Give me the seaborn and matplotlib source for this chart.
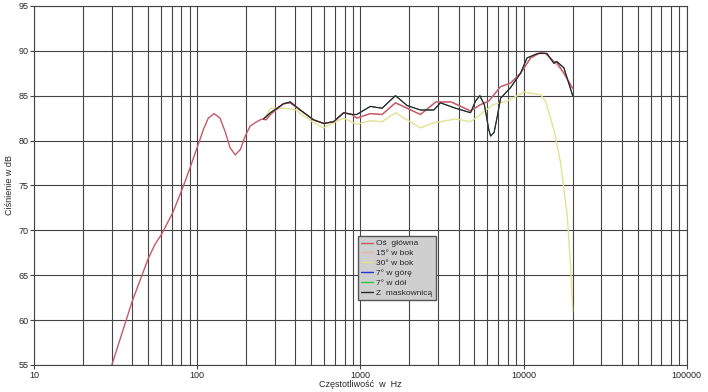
import matplotlib
matplotlib.use("Agg")
import matplotlib.pyplot as plt
import seaborn as sns
import pandas as pd
from matplotlib.ticker import LogLocator, FixedLocator, NullFormatter

sns.set_theme(style="white")
plt.rcParams['font.family'] = ['Liberation Sans', 'DejaVu Sans']

# ---- data ----
main_f = [30, 40, 50, 55, 60.7, 71, 81, 90.6, 99, 109, 117, 127, 138, 149, 159, 171, 184,
          197, 211, 227, 249, 265, 281, 338, 372, 428, 517, 596, 686, 791, 889, 950, 1151,
          1359, 1641, 1933, 2335, 2900, 3600, 4732, 5449, 6125, 7228, 8323, 9585, 11049,
          12716, 13640, 15343, 16000, 17660, 20000]
main_db = [55.0, 62.1, 66.8, 68.4, 69.6, 72.0, 74.6, 77.0, 79.0, 81.2, 82.5, 83.0, 82.5,
           80.9, 79.2, 78.4, 79.0, 80.5, 81.6, 82.0, 82.4, 82.3, 82.9, 84.1, 84.2, 83.4,
           82.3, 81.9, 82.1, 83.1, 82.9, 82.5, 83.0, 82.9, 84.2, 83.6, 82.9, 84.3, 84.3,
           83.3, 84.0, 84.4, 86.0, 86.4, 87.5, 89.2, 89.8, 89.7, 88.8, 88.7, 87.5, 85.8]

side15_f = [255, 281, 338, 372, 428, 517, 596, 686, 791, 889, 950, 1151, 1359, 1641, 1933,
            2335, 2900, 3600, 4732, 5449, 6125, 7228, 8323, 9585, 11049, 12716, 13640,
            15343, 17660, 20000]
side15_db = [82.4, 82.9, 84.1, 84.2, 83.4, 82.3, 81.9, 82.1, 83.1, 82.9, 82.5, 83.0, 82.9,
             84.2, 83.6, 82.9, 84.3, 84.3, 83.3, 84.0, 84.4, 86.0, 86.4, 87.5, 89.2, 89.8,
             89.7, 88.8, 87.5, 85.8]

side30_f = [255, 283, 338, 406, 428, 517, 596, 686, 791, 950, 1151, 1359, 1641, 1933,
            2335, 2818, 3093, 3828, 4732, 5449, 6500, 7943, 10050, 12716, 13640, 15343,
            16870, 18530, 19500, 20000]
side30_db = [82.4, 83.6, 83.6, 83.4, 83.0, 82.0, 81.4, 82.0, 82.5, 81.8, 82.2, 82.1, 83.1,
             82.3, 81.4, 82.0, 82.1, 82.4, 82.1, 82.9, 84.0, 84.4, 85.4, 85.1, 84.4, 81.2,
             77.5, 71.6, 65.5, 61.0]

mask_f = [255, 281, 338, 372, 428, 517, 596, 686, 791, 889, 950, 1151, 1359, 1641, 1933,
          2335, 2818, 3093, 3828, 4732, 5078, 5397, 5750, 6125, 6283, 6600, 6903, 7228,
          8323, 9585, 10500, 12200, 13900, 15343, 16000, 17660, 20000]
mask_db = [82.4, 83.1, 84.1, 84.3, 83.4, 82.3, 81.9, 82.1, 83.1, 82.9, 82.9, 83.8, 83.6,
           85.0, 83.9, 83.4, 83.4, 84.2, 83.6, 83.1, 84.4, 85.0, 84.0, 81.2, 80.5, 80.9,
           82.7, 84.7, 85.9, 87.5, 89.2, 89.7, 89.7, 88.6, 88.8, 88.1, 85.0]

# 7-degree curves are hidden under the grille curve in the reference
up7_f, up7_db = list(mask_f), list(mask_db)
down7_f, down7_db = list(mask_f), list(mask_db)

labels = ["Oś  główna", "15° w bok", "30° w bok", "7° w górę", "7° w dół", "Z  maskownicą"]
colors = ["#c45a66", "#e8b4b4", "#e2e294", "#2236c8", "#40c040", "#2a2a2a"]
widths = [1.0, 1.0, 1.0, 0.5, 0.5, 0.9]
series = [(main_f, main_db), (side15_f, side15_db), (side30_f, side30_db),
          (up7_f, up7_db), (down7_f, down7_db), (mask_f, mask_db)]
draw_order = [1, 2, 3, 4, 0, 5]

fig = plt.figure(figsize=(7.08, 3.92), dpi=100)
ax = fig.add_axes([0.048, 0.069, 0.922, 0.916])

for i in draw_order:
    f, d = series[i]
    df = pd.DataFrame({"f": f, "db": d})
    sns.lineplot(data=df, x="f", y="db", ax=ax, color=colors[i], lw=widths[i],
                 sort=False, label=labels[i], estimator=None)
ax.set_xscale("log")
ax.set_xlim(10, 100000)
ax.set_ylim(55, 95)

ax.xaxis.set_major_locator(FixedLocator([10, 100, 1000, 10000, 100000]))
ax.xaxis.set_minor_locator(LogLocator(base=10, subs=range(2, 10), numticks=20))
ax.xaxis.set_minor_formatter(NullFormatter())
ax.set_xticklabels(["10", "100", "1000", "10000", "100000"])
ax.set_yticks(range(55, 96, 5))

ax.grid(True, which="major", color="#444444", lw=0.8)
ax.grid(True, which="minor", axis="x", color="#444444", lw=0.8)
ax.tick_params(axis="both", which="major", labelsize=6.5, length=3, width=0.8,
               color="#444444", pad=1, bottom=True, left=True)
ax.tick_params(axis="x", which="minor", length=0)
for s in ax.spines.values():
    s.set_color("#444444")
    s.set_linewidth(0.8)

ax.set_xlabel("Częstotliwość  w  Hz", fontsize=6.5, labelpad=0)
ax.set_ylabel("Ciśnienie w dB", fontsize=6.5, labelpad=3)

h, l = ax.get_legend_handles_labels()
lut = dict(zip(l, h))
leg = ax.legend([lut[x] for x in labels], labels, loc="upper left",
                bbox_to_anchor=(0.49, 0.37), fontsize=6, frameon=True,
                fancybox=False, handlelength=1.4, handletextpad=0.4,
                borderpad=0.4, labelspacing=0.25)
for hl in leg.get_lines():
    hl.set_linewidth(1.0)
leg.get_frame().set_facecolor("#cfcfcf")
leg.get_frame().set_edgecolor("#555555")
leg.get_frame().set_alpha(1)

fig.savefig("out.png", dpi=100)
